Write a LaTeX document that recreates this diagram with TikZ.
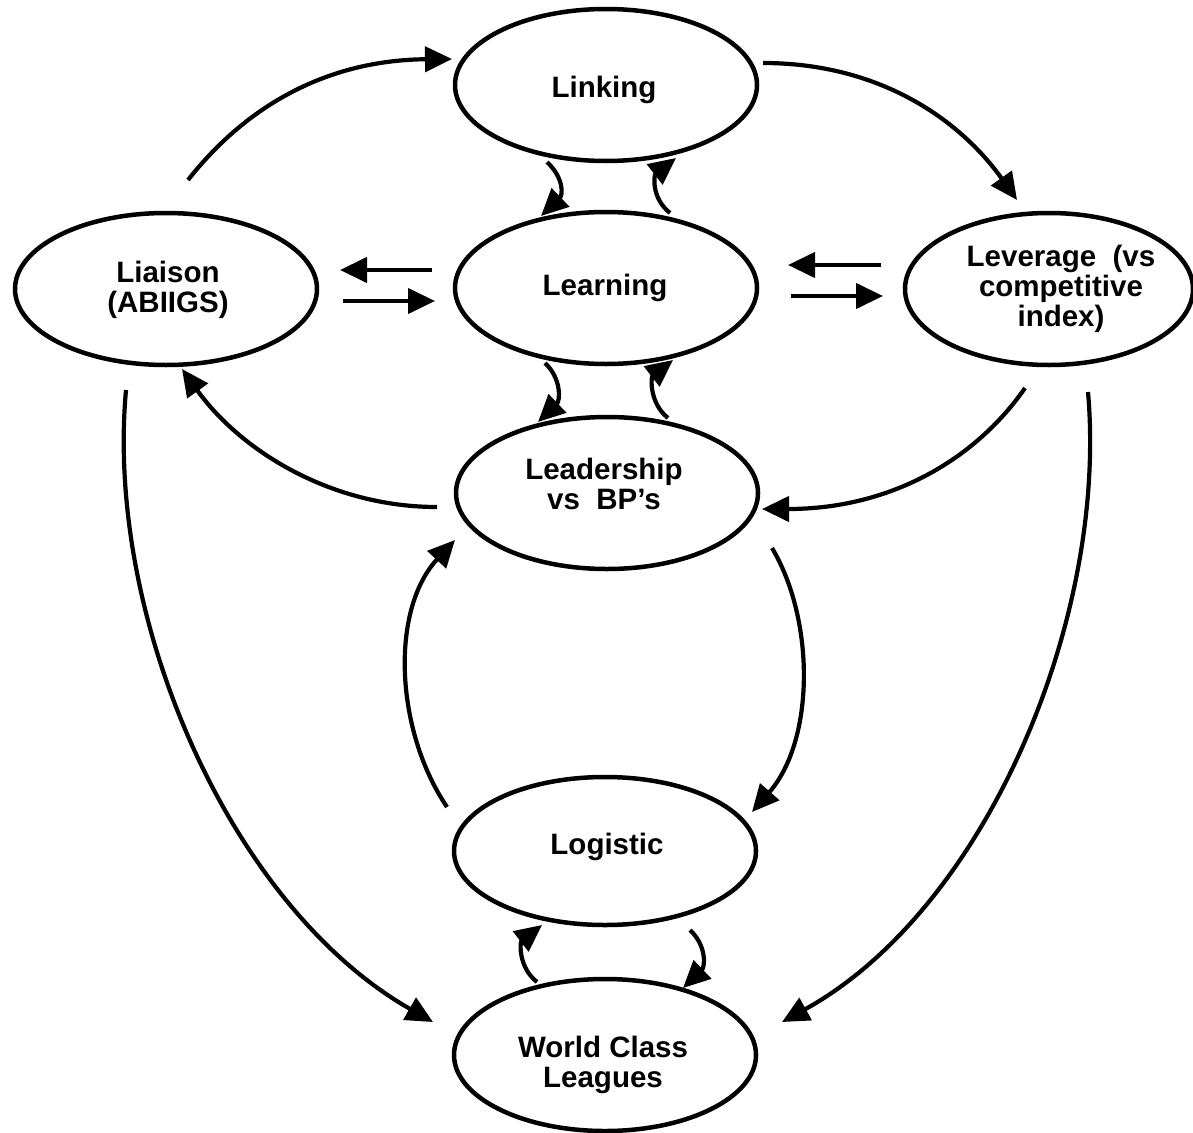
\documentclass[tikz,border=0pt]{standalone}
\usepackage{fontspec}
\setmainfont{Liberation Sans}
\usetikzlibrary{shapes.geometric,arrows.meta}
\begin{document}
\begin{tikzpicture}[x=1pt,y=-1pt,
  oval/.style={ellipse,draw,line width=4.5pt,minimum width=302pt,minimum height=152pt,inner sep=0pt},
  lbl/.style={align=center,inner sep=0pt,font=\fontsize{29.5}{30}\selectfont\bfseries},
  conn/.style={line width=4.2pt,-{Triangle[length=27pt,width=25pt]}}]
\useasboundingbox[fill=white] (0,0) rectangle (1193,1132);
% ellipses
\node[oval] (liai) at (166,289) {};
\node[oval] (link) at (606,85) {};
\node[oval] (learn) at (606,288) {};
\node[oval,minimum width=288pt] (lev) at (1049,289) {};
\node[oval] (lead) at (607,493) {};
\node[oval,minimum height=148pt] (logi) at (605,851) {};
\node[oval] (wcl) at (605,1055) {};
% texts
\node[lbl] (liaiT) at (168,290) {Liaison\\(ABIIGS)};
\node[lbl] (linkT) at (604,90) {Linking};
\node[lbl] (learnT) at (605,288) {Learning};
\node[lbl] (levT) at (1061,289) {Leverage\ \ (vs\\competitive\\index)};
\node[lbl] (leadT) at (604,484) {Leadership\\vs\ \ BP’s};
\node[lbl] (logiT) at (607,847) {Logistic};
\node[lbl] (wclT) at (603,1065) {World Class\\Leagues};
% big curved connectors
\draw[conn] ([shift={(22,-109)}]liai.center) .. controls +(67,-85) and +(-112,1) .. ([shift={(-154,-26)}]link.center);
\draw[conn] ([shift={(157,-22)}]link.center) .. controls +(117,0) and +(-57,-80) .. ([shift={(-32,-89)}]lev.center);
\draw[conn] ([shift={(-24,99)}]lev.center) .. controls +(-50,72) and +(128,0) .. ([shift={(155,16)}]lead.center);
\draw[conn] ([shift={(-170,14)}]lead.center) .. controls +(-107,0) and +(58,81) .. ([shift={(16,80)}]liai.center);
\draw[conn] ([shift={(-40,101)}]liai.center) .. controls +(-21,230) and +(-202,-115) .. ([shift={(-172,-33)}]wcl.center);
\draw[conn] ([shift={(39,103)}]lev.center) .. controls +(20,228) and +(203,-112) .. ([shift={(177,-33)}]wcl.center);
\draw[conn] ([shift={(165,55)}]lead.center) .. controls +(43,72) and +(63,-72) .. ([shift={(147,-39)}]logi.center);
\draw[conn] ([shift={(-158,-44)}]logi.center) .. controls +(-52,-77) and +(-65,70) .. ([shift={(-152,47)}]lead.center);
% small curved connectors
\draw[conn] ([shift={(-59,77)}]link.center) .. controls +(17,16) and +(22,-21) .. ([shift={(-65,-72)}]learn.center);
\draw[conn] ([shift={(64,-75)}]learn.center) .. controls +(-19,-15) and +(-22,17) .. ([shift={(70,73)}]link.center);
\draw[conn] ([shift={(-61,75)}]learn.center) .. controls +(17,16) and +(22,-21) .. ([shift={(-69,-71)}]lead.center);
\draw[conn] ([shift={(61,-75)}]lead.center) .. controls +(-19,-15) and +(-22,17) .. ([shift={(67,72)}]learn.center);
\draw[conn] ([shift={(-68,-73)}]wcl.center) .. controls +(-19,-15) and +(-22,17) .. ([shift={(-63,74)}]logi.center);
\draw[conn] ([shift={(85,79)}]logi.center) .. controls +(17,16) and +(22,-21) .. ([shift={(78,-67)}]wcl.center);
% straight paired connectors
\draw[conn] ([shift={(-174,-18)}]learn.center) -- ([shift={(174,-19)}]liai.center);
\draw[conn] ([shift={(177,12)}]liai.center) -- ([shift={(-171,13)}]learn.center);
\draw[conn] ([shift={(-168,-24)}]lev.center) -- ([shift={(182,-23)}]learn.center);
\draw[conn] ([shift={(185,8)}]learn.center) -- ([shift={(-166,7)}]lev.center);
\end{tikzpicture}
\end{document}
